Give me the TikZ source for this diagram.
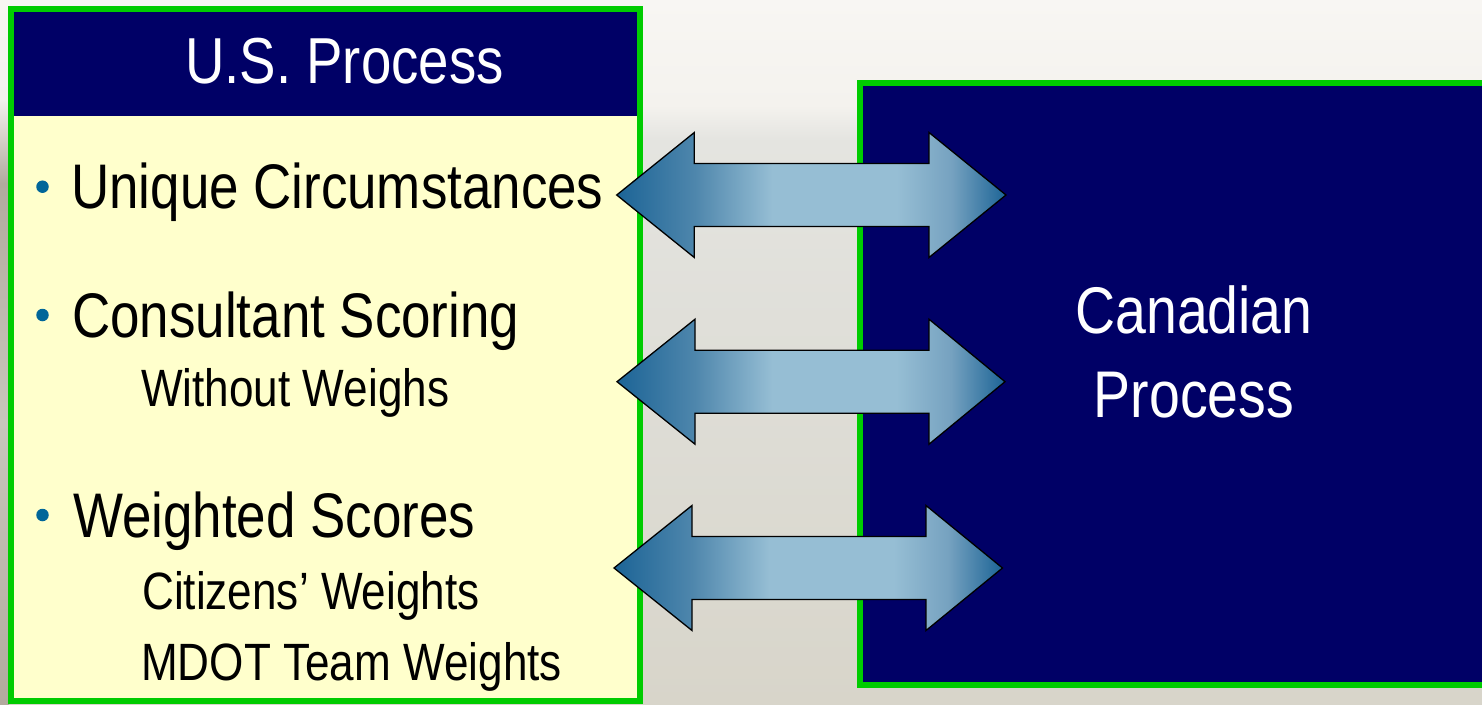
\documentclass[tikz,border=0pt]{standalone}
\usepackage{fontspec}
\setmainfont{Liberation Sans}[FakeStretch=0.84]

\definecolor{navy}{RGB}{0,0,102}
\definecolor{kgreen}{RGB}{0,204,0}
\definecolor{paleyellow}{RGB}{255,255,204}
\definecolor{dotblue}{RGB}{0,102,153}
\definecolor{adark}{RGB}{28,100,150}
\definecolor{amid}{RGB}{78,134,172}
\definecolor{amidb}{RGB}{118,162,192}
\definecolor{alight}{RGB}{150,190,212}
\definecolor{bgtop}{RGB}{248,246,243}
\definecolor{bgup}{RGB}{244,242,238}
\definecolor{bgband}{RGB}{228,228,224}
\definecolor{bgmid}{RGB}{222,221,214}
\definecolor{bgbot}{RGB}{216,213,202}
\definecolor{photoa}{RGB}{200,198,188}
\definecolor{photob}{RGB}{178,170,158}

% arrow body: dark ends, pale middle
\pgfdeclarehorizontalshading{arrowfill}{100bp}{%
  color(0bp)=(adark); color(25bp)=(adark); color(35bp)=(amid);
  color(45bp)=(alight); color(61bp)=(alight); color(68bp)=(amidb);
  color(75bp)=(adark); color(100bp)=(adark)}
% backdrop: bright sky above, greyish ground below
\pgfdeclareverticalshading{backdrop}{100bp}{%
  color(0bp)=(bgbot); color(25bp)=(bgbot); color(46.6bp)=(bgmid);
  color(65bp)=(bgband); color(67.5bp)=(bgup); color(75bp)=(bgtop);
  color(100bp)=(bgtop)}
% the strip of ground seen left of the U.S. panel
\pgfdeclareverticalshading{strip}{100bp}{%
  color(0bp)=(photob); color(25bp)=(photob); color(45bp)=(photoa);
  color(62bp)=(photob); color(68bp)=(bgup); color(75bp)=(bgtop);
  color(100bp)=(bgtop)}

\newcommand\dblarrow[5]{% left tip, left head base, right head base, right tip, axis
  \draw[blockarrow] (#1,#5) -- (#2,#5-62.5) -- (#2,#5-31.5) -- (#3,#5-31.5)
    -- (#3,#5-62.5) -- (#4,#5) -- (#3,#5+62.5) -- (#3,#5+31.5)
    -- (#2,#5+31.5) -- (#2,#5+62.5) -- cycle;}

\begin{document}
\begin{tikzpicture}[x=1pt,y=-1pt,
  panel/.style={rectangle, draw=kgreen, line width=6pt, anchor=north west,
    inner sep=0pt, outer sep=0pt},
  blockarrow/.style={draw=black, line width=1.3pt, line join=miter, shading=arrowfill},
  bullet/.style={circle, fill=dotblue, minimum size=12.5pt, inner sep=0pt},
  headtext/.style={anchor=base, text=white, inner sep=0pt, font=\fontsize{65}{78}\selectfont},
  itemtext/.style={anchor=base west, inner sep=0pt, font=\fontsize{63}{76}\selectfont},
  subtext/.style={anchor=base west, inner sep=0pt, font=\fontsize{52.5}{63}\selectfont}]

\useasboundingbox (0,0) rectangle (1482,704);
\fill[shading=backdrop] (0,0) rectangle (1482,704);
\fill[shading=strip] (0,0) rectangle (9,704);

% U.S. panel
\node (usbox) [panel, fill=paleyellow, minimum width=629pt, minimum height=692pt] at (11,9) {};
\node (ushead) [fill=navy, anchor=north west, inner sep=0pt, outer sep=0pt,
  minimum width=623pt, minimum height=104pt] at (14,12) {};
\node (ustitle) [headtext] at (344.5,83) {U.S. Process};

% Canadian panel
\node (cabox) [panel, fill=navy, minimum width=700pt, minimum height=601.5pt] at (860,83) {};
\node (catitle1) [headtext, font=\fontsize{66}{80}\selectfont] at (1194,333) {Canadian};
\node (catitle2) [headtext, font=\fontsize{66}{80}\selectfont] at (1194,417.6) {Process};

% list of the U.S. steps
\node (b1) [bullet] at (42.5,186.7) {};
\node (i1) [itemtext] at (71,208.3) {Unique Circumstances};
\node (b2) [bullet] at (42.5,315) {};
\node (i2) [itemtext] at (72,337.3) {Consultant Scoring};
\node (s2) [subtext] at (141,406) {Without Weighs};
\node (b3) [bullet] at (42.5,515) {};
\node (i3) [itemtext] at (73,537.3) {Weighted Scores};
\node (s3a) [subtext] at (142,609.3) {Citizens’ Weights};
\node (s3b) [subtext] at (141,680) {MDOT Team Weights};

% two-way links between the panels
\dblarrow{616.7}{694.3}{929}{1006}{195}
\dblarrow{617}{695}{929}{1005}{381.7}
\dblarrow{614}{692}{926}{1002.5}{568}
\end{tikzpicture}
\end{document}
